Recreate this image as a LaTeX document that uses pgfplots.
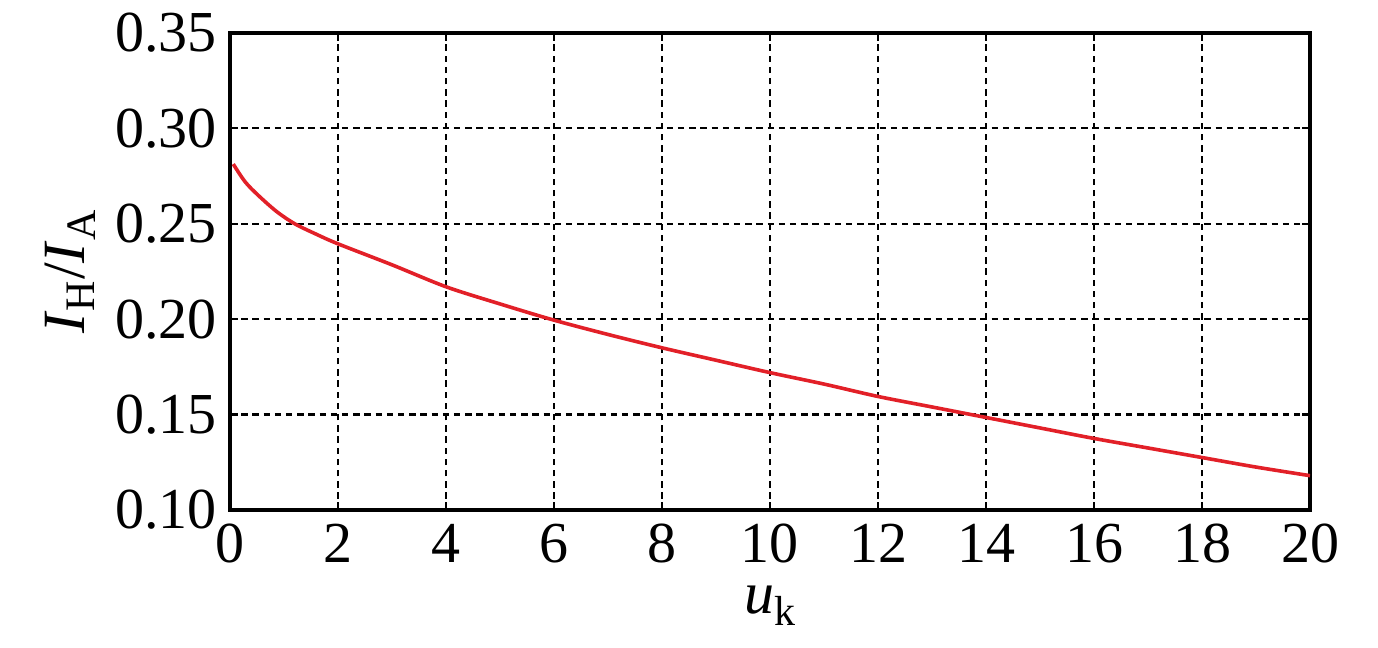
\documentclass[border=0pt]{standalone}
\usepackage{pgfplots}
\pgfplotsset{compat=1.18}
\usepackage{fontspec}
\setmainfont{Liberation Serif}
\definecolor{curvered}{RGB}{226,32,40}
\begin{document}
\begin{tikzpicture}
\begin{axis}[
  name=ax,
  scale only axis,
  width=540pt, height=238.5pt,
  xmin=0, xmax=20, ymin=0.10, ymax=0.35,
  xtick={0,2,...,20},
  ytick={0.10,0.15,0.20,0.25,0.30,0.35},
  /pgf/number format/assume math mode=true,
  yticklabel style={/pgf/number format/fixed, /pgf/number format/fixed zerofill, /pgf/number format/precision=2},
  tick label style={font=\fontsize{29}{33}\selectfont},
  xticklabel style={inner sep=1pt, yshift=-6pt},
  yticklabel style={xshift=-3pt},
  grid=major,
  major grid style={black, line width=1.1pt, dash pattern=on 3.2pt off 2.4pt},
  axis line style={black, line width=1.6pt},
  tick align=inside,
  major tick length=4pt,
  tick style={black, line width=1.1pt},
  xlabel={\textit{u}\textsubscript{k}},
  ylabel={\textit{I}\textsubscript{H}/\textit{I}\textsubscript{A}},
  label style={font=\fontsize{30}{34}\selectfont},
  xlabel style={at={(axis description cs:0.5,0)}, anchor=center, inner sep=0pt, yshift=-48pt},
  ylabel style={at={(axis description cs:0,0.5)}, anchor=center, yshift=80pt},
]
\addplot[curvered, line width=1.8pt, smooth] coordinates {
(0.06,0.2813) (0.28,0.272) (0.52,0.265) (0.86,0.2565) (1.2,0.250) (1.6,0.2445)
(2,0.2395) (3,0.2285) (4,0.217) (5,0.208) (6,0.1995) (7,0.192) (8,0.185)
(9,0.1785) (10,0.172) (11,0.166) (12,0.1595) (13,0.154) (14,0.1485)
(15,0.143) (16,0.1375) (17,0.1325) (18,0.1275) (19,0.1225) (20,0.118)
};
\end{axis}
\pgfresetboundingbox
\path[use as bounding box] ([shift={(-115pt,-69pt)}]ax.south west) rectangle ++(689pt,324pt);
\end{tikzpicture}
\end{document}
